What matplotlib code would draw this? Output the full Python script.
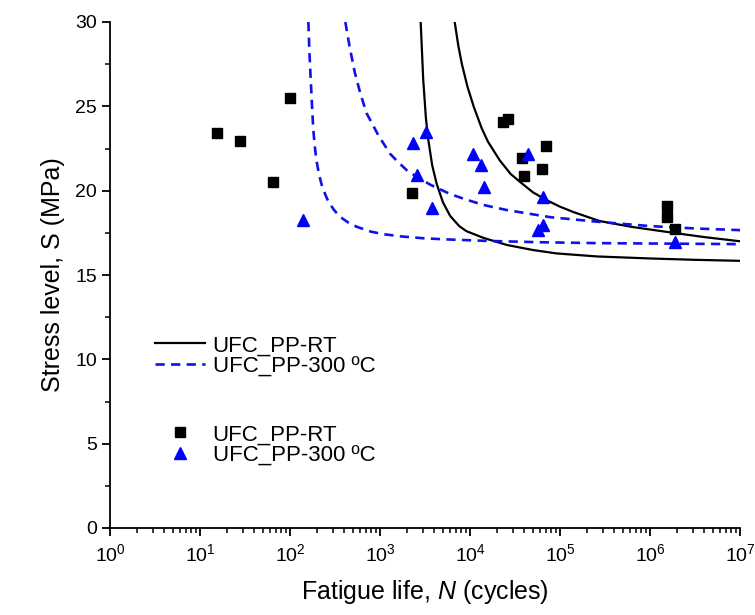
import numpy as np
import matplotlib
matplotlib.use("Agg")
from matplotlib import pyplot as plt
from matplotlib.ticker import MultipleLocator, LogLocator, NullFormatter

plt.rcParams["font.family"] = ["Liberation Sans", "DejaVu Sans"]
plt.rcParams["mathtext.fontset"] = "custom"
plt.rcParams["mathtext.rm"] = "Liberation Sans"
plt.rcParams["mathtext.it"] = "Liberation Sans:italic"

rt_N = [15.5, 28, 64, 101, 2290, 23500, 26300, 37400, 39800, 62700, 69800, 1.54e6, 1.54e6, 1.9e6]
rt_S = [23.4, 22.95, 20.5, 25.47, 19.84, 24.08, 24.23, 21.95, 20.88, 21.26, 22.66, 19.1, 18.45, 17.72]

ht_N = [141, 2300, 3240, 2560, 3740, 10900, 13400, 14400, 44500, 65000, 65000, 57500, 1.9e6]
ht_S = [18.26, 22.8, 23.5, 20.9, 18.95, 22.17, 21.5, 20.23, 22.17, 19.6, 17.96, 17.66, 16.97]

# fitted curves, points (log10 N, S)
rt1_logN = [3.452, 3.48, 3.51, 3.537, 3.58, 3.63, 3.70, 3.78, 3.88, 3.96, 4.15, 4.41, 4.70, 4.96, 5.41, 6.0, 6.5, 7.0]
rt1_S = [30.0, 26.6, 24.3, 23.0, 21.5, 20.4, 19.3, 18.5, 17.9, 17.6, 17.2, 16.78, 16.48, 16.28, 16.1, 15.98, 15.9, 15.84]

rt2_logN = [3.83, 3.87, 3.91, 3.97, 4.04, 4.13, 4.20, 4.33, 4.45, 4.56, 4.70, 4.85, 5.0, 5.15, 5.44, 5.8, 6.26, 6.6, 7.0]
rt2_S = [30.0, 28.6, 27.5, 26.2, 25.0, 23.7, 22.9, 21.8, 21.0, 20.5, 19.9, 19.44, 19.05, 18.73, 18.2, 17.85, 17.5, 17.25, 17.0]

ht1_logN = [2.204, 2.215, 2.23, 2.245, 2.259, 2.28, 2.297, 2.325, 2.352, 2.39, 2.426, 2.49, 2.556, 2.65,
            2.741, 2.9, 3.037, 3.25, 3.48, 3.74, 4.2, 4.8, 5.41, 6.2, 7.0]
ht1_S = [30.0, 28.3, 26.6, 25.0, 23.6, 22.4, 21.7, 20.9, 20.35, 19.8, 19.35, 18.85, 18.45, 18.1,
         17.86, 17.57, 17.42, 17.28, 17.18, 17.11, 17.02, 16.94, 16.89, 16.86, 16.83]

ht2_logN = [2.615, 2.66, 2.72, 2.78, 2.85, 2.92, 2.98, 3.11, 3.20, 3.30, 3.43, 3.56, 3.78, 3.93, 4.15,
            4.41, 4.89, 5.41, 6.0, 6.5, 7.0]
ht2_S = [30.0, 28.6, 27.0, 25.8, 24.6, 23.9, 23.3, 22.2, 21.7, 21.2, 20.75, 20.35, 19.8, 19.52, 19.15,
         18.85, 18.43, 18.16, 17.9, 17.76, 17.66]

lbl_rt = "UFC_PP-RT"
lbl_ht = "UFC_PP-300 ºC"

blue = "#1010ee"

fig = plt.figure(figsize=(7.55, 6.15), dpi=100)
ax = fig.add_axes([110 / 755, 1 - 528 / 615, 630 / 755, 506 / 615])

l1, = ax.plot(10 ** np.array(rt1_logN), rt1_S, color="black", lw=1.6)
ax.plot(10 ** np.array(rt2_logN), rt2_S, color="black", lw=1.6)
l2, = ax.plot(10 ** np.array(ht1_logN), ht1_S, color=blue, lw=1.9, dashes=(3.5, 2.4))
ax.plot(10 ** np.array(ht2_logN), ht2_S, color=blue, lw=1.9, dashes=(3.5, 2.4))

m1, = ax.plot(rt_N, rt_S, ls="none", marker="s", ms=7.5, color="black")
m2, = ax.plot(ht_N, ht_S, ls="none", marker="^", ms=9, color="blue")

ax.set_xscale("log")
ax.set_xlim(1, 1e7)
ax.set_ylim(0, 30)
ax.xaxis.set_major_locator(LogLocator(base=10, numticks=10))
ax.xaxis.set_minor_locator(LogLocator(base=10, subs=np.arange(2, 10), numticks=100))
ax.xaxis.set_minor_formatter(NullFormatter())
ax.yaxis.set_major_locator(MultipleLocator(5))
ax.yaxis.set_minor_locator(MultipleLocator(2.5))

for s in ["top", "right"]:
    ax.spines[s].set_visible(False)
for s in ["left", "bottom"]:
    ax.spines[s].set_linewidth(1.3)
ax.tick_params(which="major", direction="out", length=6, width=1.3, labelsize=14, colors="black")
ax.tick_params(which="minor", direction="out", length=3.5, width=1.1)
ax.tick_params(axis="x", pad=5)

ax.set_xlabel("Fatigue life, $N$ (cycles)", fontsize=18, labelpad=9)
ax.set_ylabel("Stress level, S (MPa)", fontsize=18, labelpad=7)

leg_kw = dict(loc="upper left", frameon=False, fontsize=16, handlelength=2.25,
              handletextpad=0.36, labelspacing=0.0, borderpad=0, borderaxespad=0)
leg1 = ax.legend([l1, l2], [lbl_rt, lbl_ht], bbox_to_anchor=(0.071, 0.381), **leg_kw)
ax.add_artist(leg1)
ax.legend([m1, m2], [lbl_rt, lbl_ht], bbox_to_anchor=(0.071, 0.205), **leg_kw)

fig.savefig("out.png", dpi=100)
